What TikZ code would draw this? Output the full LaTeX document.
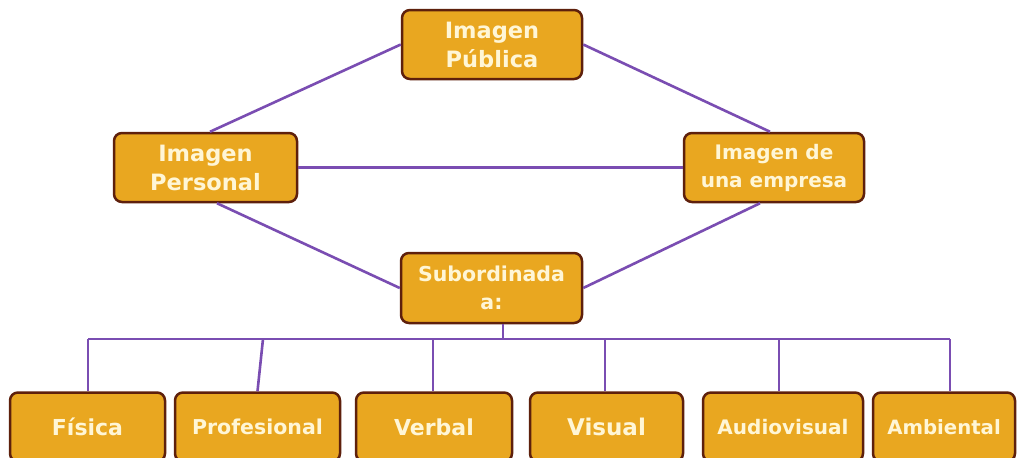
\documentclass[tikz,border=0pt]{standalone}
\usepackage{fontspec}
\setmainfont{DejaVu Sans}
\definecolor{boxfill}{HTML}{E9A720}
\definecolor{boxline}{HTML}{5E200C}
\definecolor{linkcol}{HTML}{7A4DB2}
\definecolor{txtcol}{HTML}{FFF6D6}
\tikzset{
  box/.style={draw=boxline, line width=2.5pt, fill=boxfill, rounded corners=8pt,
    text=txtcol, font=\bfseries\fontsize{20}{28}\selectfont, align=center,
    inner sep=0pt, minimum height=69pt},
  link/.style={draw=linkcol, line width=2.6pt},
}
\begin{document}
\begin{tikzpicture}[x=1pt,y=-1pt]
\useasboundingbox (0,0) rectangle (1018,458);
\fill[white] (0,0) rectangle (1018,458);
% nodes
\node[box, minimum width=180pt, font=\bfseries\fontsize{22.5}{29}\selectfont] (pub) at (492,44.5) {Imagen\\Pública};
\node[box, minimum width=183pt, font=\bfseries\fontsize{22.5}{29}\selectfont] (per) at (205.5,167.5) {Imagen\\Personal};
\node[box, minimum width=180pt, font=\bfseries\fontsize{20}{28}\selectfont] (emp) at (774,167.5) {Imagen de\\una empresa};
\node[box, minimum width=181pt, minimum height=70pt, font=\bfseries\fontsize{20.5}{28}\selectfont] (sub) at (491.5,288) {Subordinada\\a:};
\begin{scope}[every node/.append style={minimum height=70pt}]
\node[box, minimum width=155pt, font=\bfseries\fontsize{22}{26}\selectfont] (fis) at (87.5,427) {Física};
\node[box, minimum width=165pt, font=\bfseries\fontsize{20.5}{26}\selectfont] (pro) at (257.5,427) {Profesional};
\node[box, minimum width=156pt, font=\bfseries\fontsize{22}{26}\selectfont] (ver) at (434,427) {Verbal};
\node[box, minimum width=153pt, font=\bfseries\fontsize{23}{26}\selectfont] (vis) at (606.5,427) {Visual};
\node[box, minimum width=160pt, font=\bfseries\fontsize{20}{26}\selectfont] (aud) at (783,427) {Audiovisual};
\node[box, minimum width=142pt, font=\bfseries\fontsize{19.7}{26}\selectfont] (amb) at (944,427) {Ambiental};
\end{scope}
% diamond links
\draw[link] (pub.west) -- ([xshift=4.5pt]per.north);
\draw[link] (pub.east) -- ([xshift=-4pt]emp.north);
\draw[link] (per.east) -- (emp.west);
\draw[link] ([xshift=11.5pt]per.south) -- (sub.west);
\draw[link] ([xshift=-14pt]emp.south) -- (sub.east);
% bus
\coordinate (bus) at (503,339);
\coordinate (b1) at (88,339);
\coordinate (b2) at (263,339);
\coordinate (b3) at (433,339);
\coordinate (b4) at (605,339);
\coordinate (b5) at (779,339);
\coordinate (b6) at (950,339);
\draw[link] (sub.south -| bus) -- (bus);
\draw[link] (b1) -- (b6);
\draw[link] (b1) -- (b1 |- fis.north);
\draw[link] (b2) -- (pro.north);
\draw[link] (b3) -- (b3 |- ver.north);
\draw[link] (b4) -- (b4 |- vis.north);
\draw[link] (b5) -- (b5 |- aud.north);
\draw[link] (b6) -- (b6 |- amb.north);
\end{tikzpicture}
\end{document}
